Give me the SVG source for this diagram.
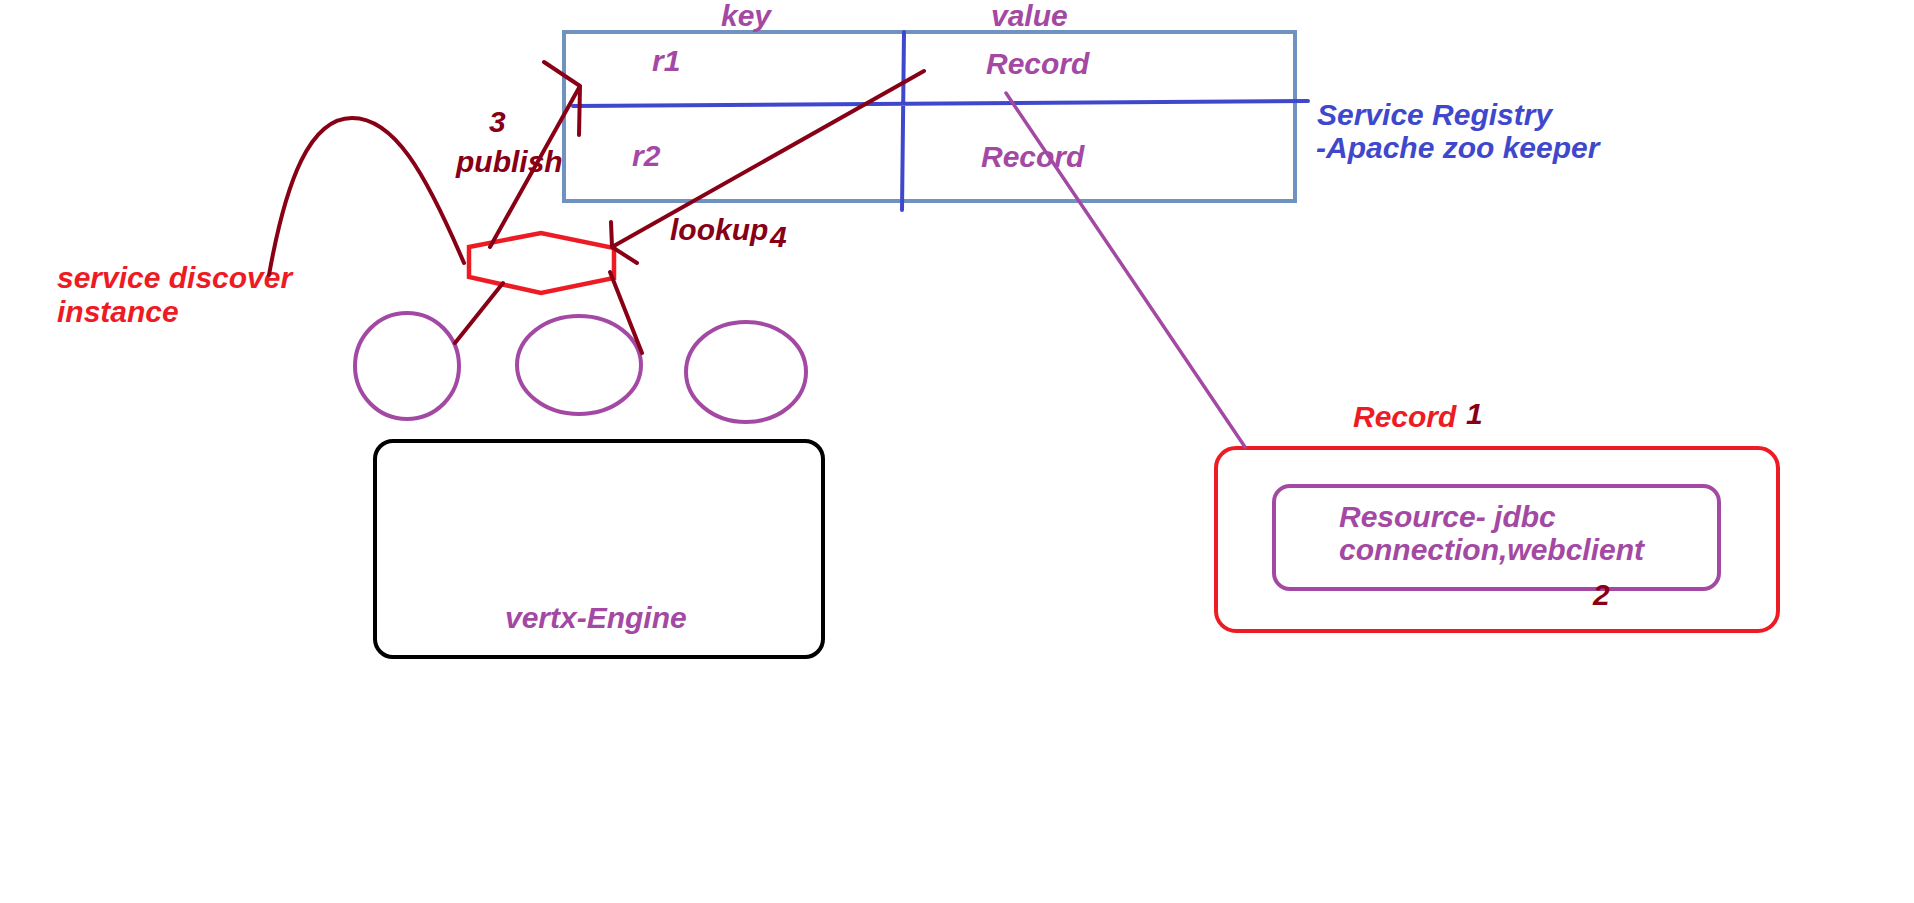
<svg xmlns="http://www.w3.org/2000/svg" width="1914" height="903" viewBox="0 0 1914 903">
<style>
text{font-family:"Liberation Sans",Arial,sans-serif;font-weight:bold;font-style:italic;font-size:30px}
.pu{fill:#A349A4}.bl{fill:#3F48CC}.rd{fill:#ED1C24}.dr{fill:#880015}
.ln{fill:none;stroke-linecap:round;stroke-linejoin:round}
.drs{stroke:#880015;stroke-width:4}
</style>
<rect width="1914" height="903" fill="#fff"/>
<g id="registry">
<rect x="564" y="32" width="731" height="169" fill="none" stroke="#7092BE" stroke-width="4"/>
<path class="ln" d="M573,106 L1308,101 M904,32 L902,210" stroke="#3F48CC" stroke-width="4"/>
<text class="pu" x="721" y="26">key</text>
<text class="pu" x="991" y="26">value</text>
<text class="pu" x="652" y="71">r1</text>
<text class="pu" x="632" y="166">r2</text>
<text class="pu" x="986" y="74">Record</text>
<text class="pu" x="981" y="167">Record</text>
</g>
<g id="registry-label">
<text class="bl" x="1317" y="125">Service Registry</text>
<text class="bl" x="1316" y="158">-Apache zoo keeper</text>
</g>
<g id="discovery">
<polygon points="469,247 541,233 614,248 614,278 541,293 469,277" fill="none" stroke="#ED1C24" stroke-width="4.5"/>
<text class="rd" x="57" y="288">service discover</text>
<text class="rd" x="57" y="322">instance</text>
</g>
<g id="verticles">
<ellipse cx="407" cy="366" rx="52" ry="53" fill="none" stroke="#A349A4" stroke-width="4"/>
<ellipse cx="579" cy="365" rx="62" ry="49" fill="none" stroke="#A349A4" stroke-width="4"/>
<ellipse cx="746" cy="372" rx="60" ry="50" fill="none" stroke="#A349A4" stroke-width="4"/>
</g>
<g id="engine">
<rect x="375" y="441" width="448" height="216" rx="18" fill="none" stroke="#000" stroke-width="4"/>
<text class="pu" x="505" y="628">vertx-Engine</text>
</g>
<g id="record">
<rect x="1216" y="448" width="562" height="183" rx="20" fill="none" stroke="#ED1C24" stroke-width="4"/>
<rect x="1274" y="486" width="445" height="103" rx="16" fill="none" stroke="#A349A4" stroke-width="4"/>
<text class="rd" x="1353" y="427">Record</text>
<text class="dr" x="1466" y="424">1</text>
<text class="pu" x="1339" y="527">Resource- jdbc</text>
<text class="pu" x="1339" y="560">connection,webclient</text>
<text class="dr" x="1593" y="605">2</text>
</g>
<g id="connectors">
<path class="ln drs" d="M269,275 C286,180 310,118 352,118 C394,118 425,172 464,263"/>
<path class="ln drs" d="M490,247 L580,86 M544,62 L580,86 L579,135"/>
<path class="ln drs" d="M924,71 L612,247 M611,222 L612,247 L637,263"/>
<path class="ln drs" d="M503,283 L455,343 M610,272 L642,353"/>
<path class="ln" d="M1006,93 L1245,447" stroke="#A349A4" stroke-width="3.5"/>
<text class="dr" x="489" y="132">3</text>
<text class="dr" x="456" y="172">publish</text>
<text class="dr" x="670" y="240">lookup</text>
<text class="dr" x="770" y="247">4</text>
</g>
</svg>
